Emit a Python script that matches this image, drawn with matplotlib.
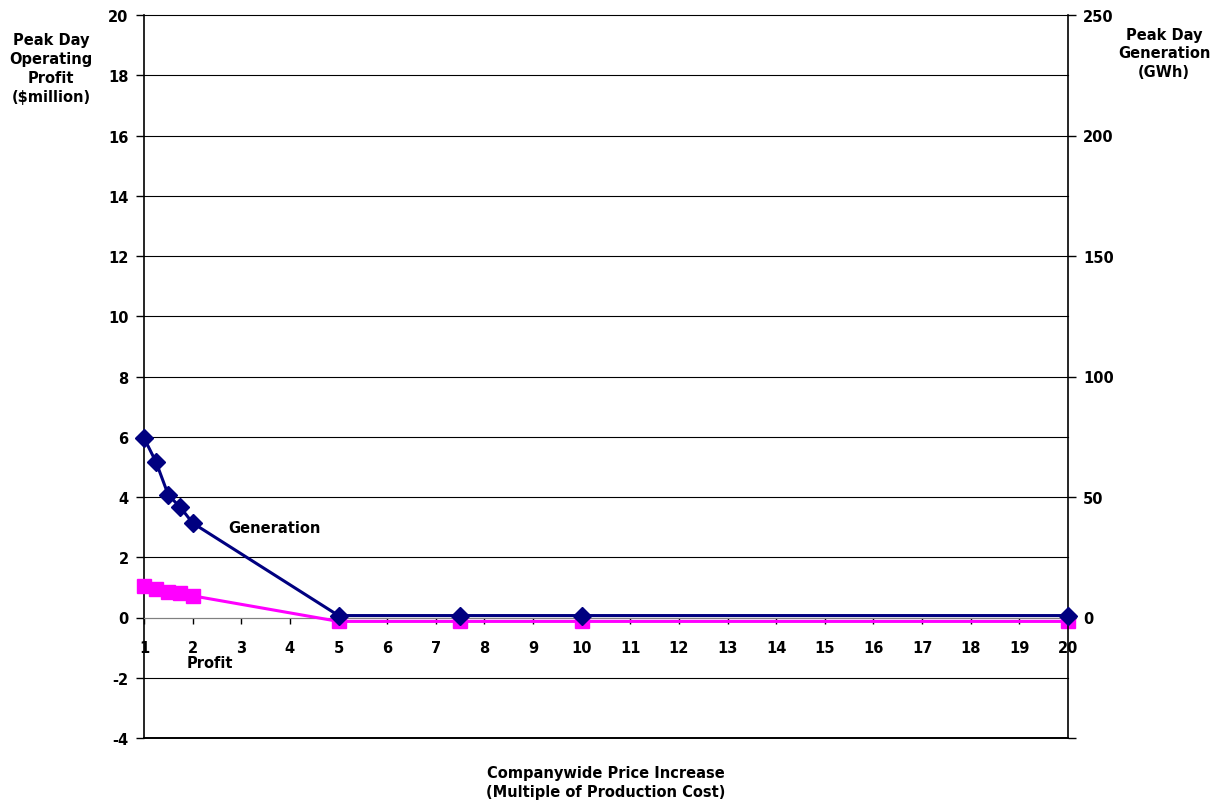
import matplotlib
matplotlib.use("Agg")
import matplotlib.pyplot as plt

plt.rcParams['font.family'] = ['DejaVu Sans']
plt.rcParams['font.weight'] = 'bold'
plt.rcParams['axes.unicode_minus'] = False

# Price multiples (x) and the two series
price_multiple = [1, 1.25, 1.5, 1.75, 2, 5, 7.5, 10, 20]
profit_musd = [1.06, 0.95, 0.86, 0.80, 0.72, -0.13, -0.13, -0.13, -0.13]
generation_gwh = [74.5, 64.4, 50.8, 45.7, 39.2, 0.8, 0.8, 0.8, 0.8]

x_ticks = list(range(1, 21))
left_ticks = list(range(-4, 21, 2))
right_ticks = list(range(-50, 251, 50))
right_labels = ['' if v < 0 else str(v) for v in right_ticks]

TICK_FS = 10.5
LABEL_FS = 10.5

fig = plt.figure(figsize=(12.2, 8.04), dpi=100)
ax = fig.add_axes([144 / 1220, 1 - 739 / 804, (1068 - 144) / 1220, (739 - 16) / 804])
ax2 = ax.twinx()

ax.set_xlim(1, 20)
ax.set_ylim(-4, 20)
ax2.set_ylim(-50, 250)

# Horizontal gridlines at the left-axis ticks
for v in left_ticks:
    ax.axhline(v, color='#808080' if v == 0 else 'black',
               lw=1.4 if v == -4 else 0.8, zorder=0, clip_on=False)

ax.spines['top'].set_visible(False)
ax.spines['right'].set_visible(False)
ax.spines['bottom'].set_position(('data', 0))
ax.spines['bottom'].set_color('#808080')
ax.spines['left'].set_linewidth(1.2)
ax2.spines['top'].set_visible(False)
ax2.spines['left'].set_visible(False)
ax2.spines['bottom'].set_visible(False)
ax2.spines['right'].set_linewidth(1.2)

ax.set_xticks(x_ticks)
ax.set_xticklabels([str(v) for v in x_ticks], fontsize=TICK_FS, fontweight='bold')
ax.set_yticks(left_ticks)
ax.set_yticklabels([str(v) for v in left_ticks], fontsize=TICK_FS, fontweight='bold')
ax2.set_yticks(right_ticks)
ax2.set_yticklabels(right_labels, fontsize=TICK_FS, fontweight='bold')
ax.tick_params(axis='x', direction='out', length=4, width=1, pad=12, colors='black')
ax.tick_params(axis='y', direction='out', length=6, width=1, pad=5)
ax2.tick_params(axis='y', direction='out', length=6, width=1, pad=5)

ax.plot(price_multiple, profit_musd, color='#FF00FF', lw=2.2, marker='s', ms=10,
        mec='#FF00FF', mfc='#FF00FF', zorder=3, clip_on=False)
ax2.plot(price_multiple, generation_gwh, color='#000080', lw=2.2, marker='D', ms=9.5,
         mec='#000080', mfc='#000080', zorder=4, clip_on=False)

ax.text(2.74, 2.99, 'Generation', fontsize=LABEL_FS, fontweight='bold', va='center', ha='left')
ax.text(1.87, -1.49, 'Profit', fontsize=LABEL_FS, fontweight='bold', va='center', ha='left')

fig.text(51 / 1220, 1 - 69 / 804, 'Peak Day\nOperating\nProfit\n($million)', ha='center', va='center',
         fontsize=LABEL_FS, fontweight='bold', linespacing=1.35)
fig.text(1164 / 1220, 1 - 54 / 804, 'Peak Day\nGeneration\n(GWh)', ha='center', va='center',
         fontsize=LABEL_FS, fontweight='bold', linespacing=1.3)
fig.text(606 / 1220, 1 - 783 / 804, 'Companywide Price Increase\n(Multiple of Production Cost)',
         ha='center', va='center', fontsize=LABEL_FS, fontweight='bold', linespacing=1.3)

fig.savefig('out.png', dpi=100, facecolor='white')
